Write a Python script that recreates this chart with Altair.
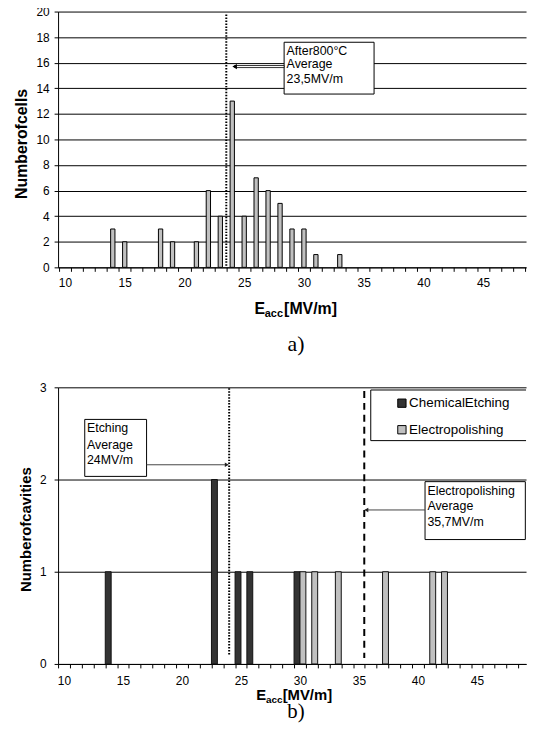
import altair as alt
import pandas as pd

FONT = "Liberation Sans"

# ---------------- data ----------------
# panel a) : number of cells per Eacc bin
a_E = [14, 15, 18, 19, 21, 22, 23, 24, 25, 26, 27, 28, 29, 30, 31, 33]
a_n = [3, 2, 3, 2, 2, 6, 4, 13, 4, 7, 6, 5, 3, 3, 1, 1]
a_avg = [23.5]
a_yticks = [0, 2, 4, 6, 8, 10, 12, 14, 16, 18, 20]

# panel b) : number of cavities per Eacc bin
b_series = ["ChemicalEtching", "Electropolishing"]
b_colors = ["#333333", "#c0c0c0"]
b_etch_E = [14, 23, 25, 26, 30]
b_etch_n = [1, 2, 1, 1, 1]
b_ep_E = [30, 31, 33, 37, 41, 42]
b_ep_n = [1, 1, 1, 1, 1, 1]
b_etch_avg = [24.0]
b_ep_avg = [35.45]
b_yticks = [0, 1, 2, 3]

x_labels = [10, 15, 20, 25, 30, 35, 40, 45]
x_bounds = [v + 0.5 for v in range(9, 50)]

a_note = ["After800°C", "Average", "23,5MV/m"]
b_note_etch = ["Etching", "Average", "24MV/m"]
b_note_ep = ["Electropolishing", "Average", "35,7MV/m"]

# annotation geometry (data units)
a_box = {"x": 28.34, "x2": 35.87, "y": 17.6, "y2": 13.55}
a_note_x = 28.55
a_note_y = [16.92, 15.89, 14.73]
a_arrow = {"x": 24.2, "x2": 28.34, "y": 15.62, "y2": 15.78, "head": 24.2, "yh": 15.7}
a_avg_span = [19.77, 0]

b_etch_box = {"x": 11.76, "x2": 17.0, "y": 2.652, "y2": 2.034}
b_etch_note_x = 11.95
b_etch_note_y = [2.562, 2.379, 2.21]
b_etch_arrow = {"x": 17.0, "x2": 23.75, "y": 2.16, "head": 23.8}
b_etch_span = [2.99, 0.1]

b_ep_box = {"x": 40.6, "x2": 49.1, "y": 1.977, "y2": 1.349}
b_ep_note_x = 40.8
b_ep_note_y = [1.876, 1.708, 1.536]
b_ep_arrow = {"x": 35.6, "x2": 40.6, "y": 1.67, "head": 35.62}
b_ep_span = [2.96, 0.065]

b_legend_box = {"x": 36.0, "y": 2.971, "y2": 2.422}
b_legend_sym_x = 38.64
b_legend_lab_x = 39.25
b_legend_y = [2.828, 2.540]

# x domains (categories on a continuous axis)
a_xdom = [9.42, 48.59]
b_xdom = [9.5, 49.16]

# ---------------- helpers ----------------
def xaxis(offset_px, pad):
    return alt.Axis(
        values=x_bounds,
        labelExpr=f"indexof({x_labels}, datum.value + 0.5) >= 0 ? format(datum.value + 0.5, 'd') : ''",
        labelOffset=offset_px,
        labelFlush=False,
        labelOverlap=False,
        tickSize=4,
        labelPadding=pad,
        grid=False,
        title=None,
        labelFontSize=12,
    )


def yaxis(values, title, size, tx, ty, lpad):
    return alt.Axis(
        values=values, format="d", grid=True, gridColor="black", tickSize=4,
        labelPadding=lpad, labelFontSize=12, labelOverlap=False,
        title=title, titleFontSize=size, titleFontWeight="bold",
        titleX=tx, titleY=ty, titleBaseline="middle", titleAlign="center",
        titleAngle=-90)


def one():
    return alt.Data(values=[{}])


def txt(text, x, y, size, weight="bold", font=FONT, align="left"):
    return alt.Chart(one()).mark_text(
        text=text, font=font, fontSize=size, fontWeight=weight,
        align=align, baseline="alphabetic", color="black"
    ).encode(x=alt.value(x), y=alt.value(y))


# ---------------- panel a ----------------
WA, HA = 472, 258
xs_a = alt.Scale(domain=a_xdom, nice=False, zero=False)
ys_a = alt.Scale(domain=[0, 20], nice=False)
AXA_X = xaxis(6.0, 6)
AXA_Y = yaxis(a_yticks, "Numberofcells", 16, -36.5, 133, 5)


def XA(f):
    return alt.X(f, scale=xs_a, axis=AXA_X)


def YA(f):
    return alt.Y(f, scale=ys_a, axis=AXA_Y)


def XAd(v):
    return alt.XDatum(v, scale=xs_a, axis=AXA_X)


def YAd(v):
    return alt.YDatum(v, scale=ys_a, axis=AXA_Y)


df_a = pd.DataFrame({"E": a_E, "n": a_n})

bars_a = alt.Chart(df_a).transform_calculate(
    x0="datum.E - 0.18", x1="datum.E + 0.18"
).mark_bar(fill="#c0c0c0", stroke="black", strokeWidth=1).encode(
    x=XA("x0:Q"), x2="x1:Q", y=YA("n:Q"), y2=alt.datum(0),
)

avg_a = alt.Chart(pd.DataFrame({"x": a_avg})).mark_rule(
    color="black", strokeDash=[1.5, 1.5], strokeWidth=2
).encode(x=XA("x:Q"), y=YAd(a_avg_span[0]), y2=alt.datum(a_avg_span[1]))

box_a = alt.Chart(pd.DataFrame([a_box])).mark_rect(
    fill="white", stroke="black", strokeWidth=1
).encode(x=XA("x:Q"), x2="x2:Q", y=YA("y:Q"), y2="y2:Q")

note_a = alt.Chart(pd.DataFrame({"t": a_note, "y": a_note_y})).mark_text(
    align="left", baseline="middle", font=FONT, fontSize=12.5, color="black"
).encode(x=XAd(a_note_x), y=YA("y:Q"), text="t:N")

arrow_a = alt.Chart(pd.DataFrame([a_arrow])).mark_rect(
    fill="white", stroke="black", strokeWidth=0.8
).encode(x=XA("x:Q"), x2="x2:Q", y=YA("y:Q"), y2="y2:Q")

head_a = alt.Chart(pd.DataFrame([a_arrow])).mark_point(
    shape="triangle-left", filled=True, color="black", size=28, opacity=1
).encode(x=XA("head:Q"), y=YA("yh:Q"))

title_a = [
    txt("E", 198, 305, 16),
    txt("acc", 208.5, 308, 11),
    txt("[MV/m]", 228, 305, 16),
    txt("a)", 240, 342, 22, weight="normal", font="Liberation Serif", align="center"),
]

panel_a = alt.layer(
    bars_a, avg_a, box_a, note_a, arrow_a, head_a, *title_a
).properties(width=WA, height=HA)

# ---------------- panel b ----------------
WB, HB = 472, 279
xs_b = alt.Scale(domain=b_xdom, nice=False, zero=False)
ys_b = alt.Scale(domain=[0, 3], nice=False)
cs_b = alt.Scale(domain=b_series, range=b_colors)
AXB_X = xaxis(5.95, 8)
AXB_Y = yaxis(b_yticks, "Numberofcavities", 15, -33, 143, 8)


def XB(f):
    return alt.X(f, scale=xs_b, axis=AXB_X)


def YB(f):
    return alt.Y(f, scale=ys_b, axis=AXB_Y)


def XBd(v):
    return alt.XDatum(v, scale=xs_b, axis=AXB_X)


def YBd(v):
    return alt.YDatum(v, scale=ys_b, axis=AXB_Y)


df_b = pd.concat([
    pd.DataFrame({"E": b_etch_E, "n": b_etch_n, "series": b_series[0]}),
    pd.DataFrame({"E": b_ep_E, "n": b_ep_n, "series": b_series[1]}),
])

bars_b = alt.Chart(df_b).transform_calculate(
    x0=f"datum.series == '{b_series[0]}' ? datum.E - 0.5 : datum.E",
    x1=f"datum.series == '{b_series[0]}' ? datum.E : datum.E + 0.5",
).mark_bar(stroke="#111111", strokeWidth=1).encode(
    x=XB("x0:Q"), x2="x1:Q", y=YB("n:Q"), y2=alt.datum(0),
    color=alt.Color("series:N", scale=cs_b, legend=None),
)

# legend frame: white fill running off the right edge, with top/bottom/left borders
df_lbox = pd.DataFrame([dict(b_legend_box, x2=b_xdom[1])])
legend_fill = alt.Chart(df_lbox).mark_rect(fill="white").encode(
    x=XB("x:Q"), x2="x2:Q", y=YB("y:Q"), y2="y2:Q")
legend_top = alt.Chart(df_lbox).mark_rule(color="black", strokeWidth=1).encode(
    x=XB("x:Q"), x2="x2:Q", y=YB("y:Q"))
legend_bot = alt.Chart(df_lbox).mark_rule(color="black", strokeWidth=1).encode(
    x=XB("x:Q"), x2="x2:Q", y=YB("y2:Q"))
legend_left = alt.Chart(df_lbox).mark_rule(color="black", strokeWidth=1).encode(
    x=XB("x:Q"), y=YB("y:Q"), y2="y2:Q")

df_leg = pd.DataFrame({"series": b_series, "y": b_legend_y})
legend_sym = alt.Chart(df_leg).mark_point(
    shape="square", filled=True, size=70, stroke="black", strokeWidth=1, opacity=1
).encode(x=XBd(b_legend_sym_x), y=YB("y:Q"),
         color=alt.Color("series:N", scale=cs_b, legend=None))
legend_lab = alt.Chart(df_leg).mark_text(
    align="left", baseline="middle", font=FONT, fontSize=13.5, color="black"
).encode(x=XBd(b_legend_lab_x), y=YB("y:Q"), text="series:N")

etch_line = alt.Chart(pd.DataFrame({"x": b_etch_avg})).mark_rule(
    color="black", strokeDash=[1.5, 1.5], strokeWidth=2
).encode(x=XB("x:Q"), y=YBd(b_etch_span[0]), y2=alt.datum(b_etch_span[1]))

ep_line = alt.Chart(pd.DataFrame({"x": b_ep_avg})).mark_rule(
    color="black", strokeDash=[7, 5], strokeWidth=2
).encode(x=XB("x:Q"), y=YBd(b_ep_span[0]), y2=alt.datum(b_ep_span[1]))


def note_box(box):
    return alt.Chart(pd.DataFrame([box])).mark_rect(
        fill="white", stroke="black", strokeWidth=1
    ).encode(x=XB("x:Q"), x2="x2:Q", y=YB("y:Q"), y2="y2:Q")


def note_text(lines, xpos, ys):
    return alt.Chart(pd.DataFrame({"t": lines, "y": ys})).mark_text(
        align="left", baseline="middle", font=FONT, fontSize=12.5, color="black"
    ).encode(x=XBd(xpos), y=YB("y:Q"), text="t:N")


def arrow(a, shape):
    line = alt.Chart(pd.DataFrame([a])).mark_rule(color="#444444", strokeWidth=1).encode(
        x=XB("x:Q"), x2="x2:Q", y=YB("y:Q"))
    head = alt.Chart(pd.DataFrame([a])).mark_point(
        shape=shape, filled=True, color="#222222", size=22, opacity=1
    ).encode(x=XB("head:Q"), y=YB("y:Q"))
    return [line, head]


title_b = [
    txt("E", 200, 315.5, 15),
    txt("acc", 209.6, 318.5, 10),
    txt("[MV/m]", 226.5, 315.5, 15),
    txt("b)", 240, 333.5, 21, weight="normal", font="Liberation Serif", align="center"),
]

panel_b = alt.layer(
    legend_fill, legend_top, legend_bot, legend_left, legend_sym, legend_lab,
    bars_b, etch_line, ep_line,
    note_box(b_etch_box), note_text(b_note_etch, b_etch_note_x, b_etch_note_y),
    *arrow(b_etch_arrow, "triangle-right"),
    note_box(b_ep_box), note_text(b_note_ep, b_ep_note_x, b_ep_note_y),
    *arrow(b_ep_arrow, "triangle-left"),
    *title_b,
).properties(width=WB, height=HB)

chart = alt.vconcat(panel_a, panel_b, spacing=27).properties(
    padding={"left": 5.5, "top": -5.5, "right": 0, "bottom": 0}
).configure_view(stroke=None).configure_axis(
    domainColor="black", tickColor="black", labelColor="black", titleColor="black",
    labelFont=FONT, titleFont=FONT, domainWidth=1, tickWidth=1
).configure_text(font=FONT)

chart.save("out.html", embed_options={"renderer": "svg", "actions": False})
